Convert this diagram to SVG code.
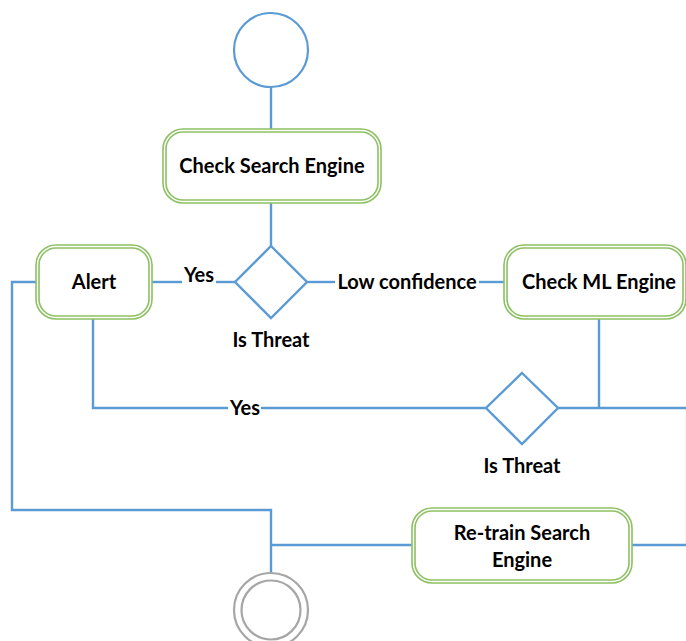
<svg xmlns="http://www.w3.org/2000/svg" width="686" height="641" viewBox="0 0 686 641">
  <style>
    .bg { fill: #ffffff; }
    .conn { fill: none; stroke: #5B9BD5; stroke-width: 2.4; }
    .act-out { fill: #ffffff; stroke: #8DC063; stroke-width: 1.6; }
    .act-in { fill: none; stroke: #8DC063; stroke-width: 1.6; }
    .dec { fill: #ffffff; stroke: #5B9BD5; stroke-width: 2.4; }
    .start { fill: #ffffff; stroke: #5B9BD5; stroke-width: 2.2; }
    .end { fill: #ffffff; stroke: #A6A6A6; stroke-width: 2.2; }
    .lbl { font-family: Lato, "Open Sans", "Liberation Sans", sans-serif; font-weight: bold; font-size: 20px; fill: #000000; text-anchor: middle; }
  </style>
  <rect class="bg" x="0" y="0" width="686" height="641"/>

  <g id="connectors">
    <path class="conn" d="M271 87 V129"/>
    <path class="conn" d="M271 203 V246"/>
    <path class="conn" d="M152 282 H182"/>
    <path class="conn" d="M216 282 H235"/>
    <path class="conn" d="M307 282 H335"/>
    <path class="conn" d="M479 282 H504"/>
    <path class="conn" d="M36 282 H12 V510 H271 V573"/>
    <path class="conn" d="M93 319 V408 H228"/>
    <path class="conn" d="M261 408 H486"/>
    <path class="conn" d="M558 408 H690"/>
    <path class="conn" d="M599 318 V408"/>
    <path class="conn" d="M687 408 V545" stroke-opacity="0.5"/>
    <path class="conn" d="M690 545 H632"/>
    <path class="conn" d="M412 545 H271"/>
    <text class="lbl" x="199" y="282">Yes</text>
    <text class="lbl" x="407" y="289">Low confidence</text>
    <text class="lbl" x="245" y="415">Yes</text>
  </g>

  <g id="start">
    <circle class="start" cx="271" cy="50" r="37"/>
  </g>

  <g id="check-search-engine">
    <rect class="act-out" x="163" y="129" width="218" height="74" rx="20"/>
    <rect class="act-in" x="166" y="132" width="212" height="68" rx="17"/>
    <text class="lbl" x="272" y="173">Check Search Engine</text>
  </g>

  <g id="is-threat-1">
    <polygon class="dec" points="271,246 307,282 271,318 235,282"/>
    <text class="lbl" x="271" y="347">Is Threat</text>
  </g>

  <g id="alert">
    <rect class="act-out" x="36" y="245" width="116" height="74" rx="20"/>
    <rect class="act-in" x="39" y="248" width="110" height="68" rx="17"/>
    <text class="lbl" x="94" y="289">Alert</text>
  </g>

  <g id="check-ml-engine">
    <rect class="act-out" x="504" y="245" width="182" height="74" rx="20"/>
    <rect class="act-in" x="507" y="248" width="176" height="68" rx="17"/>
    <text class="lbl" x="599" y="289">Check ML Engine</text>
  </g>

  <g id="is-threat-2">
    <polygon class="dec" points="522,373 558,408 522,444 486,408"/>
    <text class="lbl" x="522" y="473">Is Threat</text>
  </g>

  <g id="retrain-search-engine">
    <rect class="act-out" x="412" y="508" width="220" height="75" rx="20"/>
    <rect class="act-in" x="415" y="511" width="214" height="69" rx="17"/>
    <text class="lbl" x="522" y="540">Re-train Search</text>
    <text class="lbl" x="522" y="567">Engine</text>
  </g>

  <g id="end">
    <circle class="end" cx="271" cy="610" r="37"/>
    <circle class="end" cx="271" cy="610" r="29.5"/>
  </g>
</svg>
